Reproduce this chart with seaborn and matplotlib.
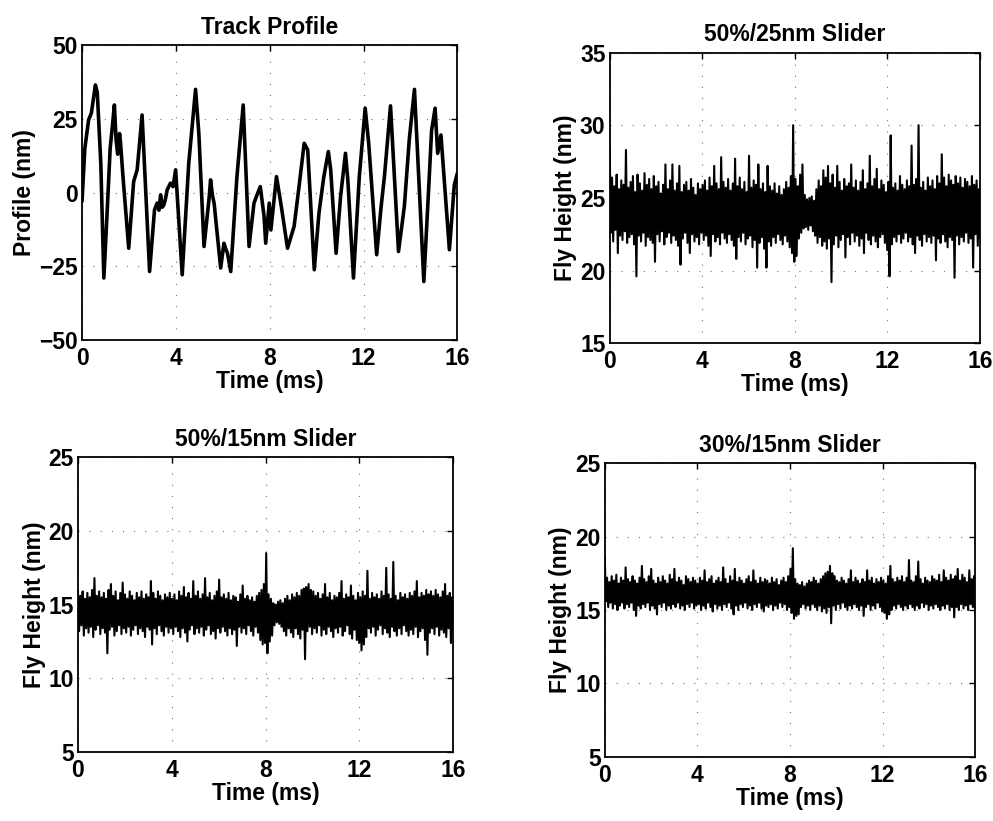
import numpy as np
import pandas as pd
import matplotlib
matplotlib.use("Agg")
import matplotlib.pyplot as plt
import seaborn as sns

# ---------------- data ----------------
track_t = [0.0, 0.12, 0.28, 0.4, 0.57, 0.65, 0.8, 0.93, 1.05, 1.2, 1.3, 1.38, 1.45, 1.52, 1.6, 1.64,
           1.75, 1.99, 2.2, 2.35, 2.56, 2.88, 3.09, 3.2, 3.28, 3.35, 3.42, 3.49, 3.56, 3.63, 3.77, 3.88,
           3.99, 4.27, 4.55, 4.84, 4.98, 5.2, 5.41, 5.48, 5.56, 5.63, 5.91, 6.05, 6.12, 6.2, 6.34, 6.6,
           6.87, 7.12, 7.33, 7.45, 7.6, 7.76, 7.83, 7.98, 8.05, 8.29, 8.5, 8.76, 9.04, 9.25, 9.47, 9.62,
           9.9, 10.1, 10.3, 10.5, 10.6, 10.83, 11.02, 11.23, 11.33, 11.57, 11.82, 12.07, 12.22, 12.56,
           12.75, 12.89, 13.15, 13.49, 13.74, 13.95, 14.17, 14.57, 14.81, 14.9, 15.05, 15.16, 15.3,
           15.66, 15.87, 16.0]
track_nm = [-3, 15, 24.6, 27, 36.5, 34, 10, -29, -10, 15, 23, 29.7, 18, 13, 20, 17,
            5, -18.9, 3.7, 7.7, 26.3, -26.8, -5.9, -3.6, -6, -0.8, -5, -4.2, -2, 0.9, 3.2, 2,
            7.7, -27.9, 10, 35, 20, -18.3, -2.5, 4.3, -1, -3.6, -25.6, -17.2, -19, -20.6, -26.8, 5,
            29.7, -18.3, -3.6, -1, 2, -8.1, -17.2, -3.6, -12.7, 5.4, -5, -18.9, -11.5, 2, 16.7, 14.5,
            -26.2, -7, 5, 13.9, 7.7, -20.6, -1.4, 13.3, 4.3, -29, 5.4, 28.6, 16.7, -21.1,
            -4.7, 5.4, 29.4, -20, -4.7, 18, 35, -30.2, 6.6, 21, 28.6, 13.3, 19.5,
            -19.4, 2.6, 6.6]

# 50%/25nm slider: local maxima and minima of the fly-height trace
fh25_hi = [28.5, 26.4, 25.8, 26.6, 25.6, 26.2, 25.9, 28.3, 25.7, 26.1,
           26.5, 25.4, 26.6, 26.0, 25.5, 26.7, 25.9, 26.3, 25.6, 26.5,
           25.8, 26.1, 25.3, 25.9, 27.3, 25.6, 26.2, 27.3, 25.5, 26.0,
           27.2, 25.4, 25.9, 26.1, 25.5, 26.3, 25.7, 25.2, 26.0, 25.6,
           25.9, 26.2, 25.5, 26.4, 25.8, 27.2, 26.0, 25.6, 27.8, 26.1,
           25.7, 26.3, 25.5, 26.0, 27.7, 25.8, 26.4, 25.6, 26.1, 25.4,
           27.9, 25.7, 26.2, 25.9, 27.3, 25.6, 26.0, 25.4, 27.2, 25.8,
           25.5, 26.0, 25.3, 25.8, 25.2, 25.6, 26.1, 25.7, 26.5, 30.0,
           26.3, 25.8, 26.6, 27.3, 25.2, 24.9, 25.0, 25.1, 24.8, 25.6,
           26.2, 25.8, 26.9, 26.4, 27.2, 26.0, 26.6, 25.7, 27.2, 26.1,
           25.5, 26.3, 25.8, 26.0, 27.3, 25.7, 26.2, 25.5, 26.1, 26.9,
           25.6, 26.0, 27.9, 25.8, 26.3, 27.0, 25.6, 26.2, 25.9, 25.4,
           26.1, 29.3, 25.7, 26.0, 25.5, 26.5, 25.9, 25.6, 26.2, 25.8,
           28.6, 25.9, 26.3, 30.0, 25.7, 26.1, 25.5, 26.4, 25.8, 26.2,
           25.6, 26.5, 26.0, 28.0, 26.4, 25.8, 26.6, 26.2, 25.9, 26.5,
           26.0, 26.4, 25.7, 26.3, 26.1, 25.8, 26.5, 25.9, 26.2, 25.6]
fh25_lo = [22.6, 22.0, 22.8, 21.2, 22.4, 22.1, 22.7, 21.9, 22.3, 22.5,
           21.8, 19.6, 22.4, 22.0, 22.6, 21.7, 22.3, 22.1, 21.9, 20.6,
           22.5, 22.0, 22.7, 21.8, 22.3, 22.6, 21.9, 22.4, 22.1, 21.7,
           20.4, 22.2, 22.6, 21.9, 21.2, 22.5, 22.0, 22.3, 21.8, 22.6,
           22.1, 22.4, 21.7, 21.0, 22.5, 22.0, 22.3, 21.8, 22.6, 22.2,
           21.9, 22.5, 22.1, 21.7, 20.8, 22.3, 22.0, 22.6, 21.8, 22.2,
           22.4, 21.6, 22.1, 20.2, 21.9, 22.3, 21.5, 20.2, 22.0, 21.7,
           22.3, 21.9, 22.5, 22.1, 21.8, 22.4, 22.0, 21.6, 21.2, 20.6,
           21.0, 22.2, 22.6, 22.9, 23.0, 22.8, 23.1, 22.7, 22.4, 21.9,
           22.3, 21.7, 22.0, 21.5, 22.2, 19.2, 21.8, 22.4, 21.6, 22.1,
           22.5, 20.9, 22.3, 21.8, 22.6, 22.0, 22.4, 21.7, 22.2, 21.2,
           22.6, 22.1, 21.8, 22.4, 22.0, 21.6, 22.3, 22.5, 21.9, 21.4,
           19.6, 21.8, 22.3, 22.0, 22.5, 21.9, 22.2, 22.6, 22.0, 22.3,
           21.8, 21.2, 22.4, 22.1, 21.7, 22.5, 22.0, 22.3, 21.9, 22.4,
           20.7, 22.2, 21.9, 22.5, 22.0, 21.6, 22.3, 22.1, 19.5, 22.4,
           21.8, 22.3, 22.0, 22.6, 21.9, 22.2, 20.2, 22.5, 21.7, 22.3]

# 50%/15nm slider
fh15a_hi = [16.0, 15.6, 15.9, 15.4, 15.8, 15.5, 16.0, 16.8, 15.6, 15.9,
            15.5, 15.8, 15.4, 16.0, 16.4, 15.6, 15.9, 15.3, 15.8, 16.5,
            15.7, 15.4, 15.9, 15.6, 15.3, 15.8, 15.5, 15.9, 15.4, 15.7,
            15.5, 16.6, 15.8, 15.4, 15.9, 15.6, 15.3, 15.7, 15.5, 15.8,
            15.4, 15.7, 15.3, 15.9, 15.6, 16.2, 15.5, 15.8, 15.4, 16.6,
            15.6, 15.9, 15.4, 15.7, 16.8, 15.5, 15.8, 15.3, 15.6, 15.9,
            16.7, 15.5, 15.7, 15.4, 15.8, 15.3, 15.6, 15.5, 15.2, 15.7,
            16.3, 15.4, 15.6, 15.3, 15.5, 15.2, 15.6, 15.8, 16.0, 16.4,
            18.5, 15.7, 15.4, 15.1, 15.0, 15.2, 15.3, 15.1, 15.4, 15.6,
            15.3, 15.7, 15.5, 15.8, 15.6, 16.0, 16.1, 16.2, 16.4, 16.0,
            15.9, 15.6, 15.8, 15.4, 15.7, 16.4, 15.5, 15.8, 15.3, 15.6,
            15.5, 15.8, 16.6, 15.4, 15.7, 15.5, 16.3, 15.6, 15.3, 15.8,
            15.5, 15.9, 15.6, 17.3, 15.4, 15.8, 15.5, 15.7, 15.4, 15.9,
            15.6, 17.5, 15.7, 15.4, 17.9, 15.6, 15.3, 15.8, 15.5, 15.7,
            15.4, 15.8, 15.6, 15.9, 16.6, 15.5, 15.8, 15.6, 16.0, 15.7,
            15.9, 15.6, 16.0, 15.7, 15.5, 15.9, 16.4, 15.6, 15.8, 15.5]
fh15a_lo = [13.2, 13.6, 12.9, 13.4, 13.1, 13.5, 12.8, 13.3, 13.6, 13.0,
            13.4, 13.1, 11.7, 13.3, 13.5, 12.9, 13.2, 13.6, 13.0, 13.4,
            13.1, 13.5, 12.9, 13.3, 13.6, 13.0, 13.4, 13.2, 12.8, 13.5,
            13.3, 12.3, 13.4, 13.0, 13.6, 13.2, 12.9, 13.5, 13.1, 13.4,
            13.0, 13.5, 13.2, 12.8, 13.4, 13.1, 12.5, 13.3, 13.6, 13.0,
            13.4, 13.1, 13.5, 12.9, 13.3, 13.6, 13.0, 13.2, 12.7, 13.4,
            13.1, 13.5, 13.2, 12.9, 13.4, 13.0, 13.3, 12.2, 13.5, 13.1,
            13.4, 13.0, 13.6, 13.2, 12.9, 13.5, 13.1, 12.6, 12.3, 12.4,
            11.7, 12.5, 12.9, 13.6, 13.8, 13.7, 13.5, 13.2, 12.9, 13.4,
            13.1, 12.8, 13.4, 13.0, 12.7, 13.3, 11.3, 13.2, 13.5, 13.0,
            13.4, 13.1, 13.6, 12.9, 13.3, 13.0, 13.5, 13.2, 12.8, 13.4,
            13.1, 13.5, 12.9, 13.2, 13.6, 13.0, 12.7, 13.3, 12.6, 12.4,
            11.9, 12.3, 12.8, 13.4, 13.1, 13.5, 12.9, 13.3, 13.6, 13.0,
            13.4, 13.1, 12.8, 13.5, 13.2, 12.9, 13.4, 13.0, 13.6, 13.2,
            12.9, 13.3, 13.0, 13.5, 12.8, 13.2, 13.4, 12.6, 11.6, 13.1,
            13.4, 13.0, 13.5, 12.9, 13.3, 13.1, 12.8, 13.4, 12.4, 13.2]

# 30%/15nm slider
fh15b_hi = [18.7, 17.2, 16.9, 17.3, 17.0, 17.4, 16.8, 17.2, 17.0, 17.9,
            17.1, 16.9, 17.3, 17.0, 16.8, 17.2, 18.0, 17.1, 16.9, 17.3,
            17.8, 17.0, 16.8, 17.2, 16.9, 17.3, 17.0, 16.8, 17.4, 17.1,
            17.8, 16.9, 17.2, 17.0, 16.7, 17.3, 17.1, 16.9, 17.2, 17.0,
            16.8, 17.2, 17.0, 17.7, 16.9, 17.1, 17.3, 16.8, 17.0, 17.2,
            16.9, 17.9, 17.1, 16.8, 17.3, 17.0, 17.8, 16.9, 17.2, 17.0,
            16.8, 17.1, 17.3, 16.9, 17.7, 17.0, 16.8, 17.2, 16.9, 17.1,
            17.0, 16.8, 17.2, 16.9, 17.1, 16.7, 17.0, 17.2, 16.9, 17.3,
            17.8, 19.2, 17.1, 16.8, 16.7, 16.9, 16.6, 16.8, 17.0, 16.9,
            17.2, 17.0, 16.8, 17.1, 17.3, 17.5, 17.6, 18.0, 17.5, 17.3,
            17.0, 16.9, 17.2, 17.0, 16.8, 17.1, 17.7, 16.9, 17.2, 17.0,
            16.8, 17.1, 16.9, 17.7, 17.0, 17.2, 16.8, 17.1, 16.9, 17.2,
            17.0, 16.8, 17.3, 18.0, 17.1, 16.9, 17.2, 17.0, 17.3, 16.9,
            17.2, 18.4, 17.0, 16.9, 17.3, 18.3, 17.1, 16.8, 17.2, 17.0,
            16.9, 17.3, 17.1, 17.0, 17.4, 16.9, 17.7, 17.2, 17.0, 17.4,
            17.1, 17.3, 17.8, 17.0, 17.4, 17.2, 16.9, 17.7, 17.1, 17.3]
fh15b_lo = [15.6, 15.2, 15.5, 15.1, 15.4, 15.0, 15.3, 15.5, 15.1, 15.4,
            15.2, 15.5, 15.0, 14.6, 15.3, 15.1, 15.4, 15.2, 15.5, 15.0,
            15.3, 15.1, 14.7, 15.4, 15.2, 15.5, 15.0, 15.3, 15.1, 15.4,
            15.2, 15.5, 15.1, 15.3, 15.0, 15.4, 15.2, 15.5, 15.1, 15.3,
            15.4, 15.0, 15.3, 15.1, 15.5, 15.2, 14.9, 15.4, 15.1, 15.3,
            15.0, 15.4, 15.2, 15.5, 15.1, 14.7, 15.3, 15.0, 15.4, 15.2,
            15.5, 15.1, 15.3, 15.0, 15.4, 15.2, 15.5, 15.1, 14.9, 15.3,
            15.2, 15.4, 15.0, 15.3, 15.1, 15.5, 15.2, 15.4, 15.0, 15.2,
            14.8, 14.4, 14.6, 14.7, 15.2, 15.4, 15.1, 15.3, 15.0, 15.4,
            15.2, 15.0, 15.3, 14.9, 15.1, 14.8, 15.2, 14.1, 15.3, 15.0,
            15.4, 15.1, 15.5, 15.2, 15.0, 15.3, 15.1, 15.4, 15.2, 15.0,
            15.3, 14.6, 15.2, 15.4, 15.0, 15.3, 15.1, 15.5, 15.2, 14.9,
            14.8, 14.4, 14.7, 15.0, 15.3, 15.1, 15.4, 15.2, 15.0, 15.3,
            15.1, 15.4, 15.2, 15.0, 15.3, 15.1, 15.5, 15.2, 15.4, 15.0,
            15.3, 15.1, 15.4, 15.2, 15.0, 15.3, 15.1, 15.4, 15.0, 15.2,
            14.5, 15.2, 15.0, 15.4, 15.1, 15.3, 15.0, 15.4, 15.2, 14.8]

time_ticks = [0, 4, 8, 12, 16]
profile_ticks = [-50, -25, 0, 25, 50]
fh25_ticks = [15, 20, 25, 30, 35]
fh15_ticks = [5, 10, 15, 20, 25]

titles = ["Track Profile", "50%/25nm Slider", "50%/15nm Slider", "30%/15nm Slider"]


def trace(hi, lo):
    """Interleave the read maxima/minima into one time trace."""
    vals = np.empty(len(hi) + len(lo))
    vals[0::2] = hi
    vals[1::2] = lo
    t = np.linspace(0, 16, len(vals))
    return pd.DataFrame({"t": t, "v": vals})


# ---------------- styling ----------------
sns.set_theme(style="white")
plt.rcParams["font.family"] = ["Liberation Sans", "DejaVu Sans"]
FS = 16.5
plt.rcParams.update({
    "text.color": "black",
    "axes.labelcolor": "black",
    "axes.edgecolor": "black",
    "axes.linewidth": 1.3,
    "xtick.direction": "in",
    "ytick.direction": "in",
    "xtick.top": True,
    "ytick.right": True,
    "xtick.major.size": 4,
    "ytick.major.size": 4,
    "xtick.major.width": 1.0,
    "ytick.major.width": 1.0,
    "xtick.color": "black",
    "ytick.color": "black",
    "xtick.labelcolor": "black",
    "ytick.labelcolor": "black",
})

fig = plt.figure(figsize=(9.93, 8.21), dpi=100)
positions = [
    [0.0826, 0.586, 0.378, 0.359],
    [0.614, 0.582, 0.373, 0.354],
    [0.0785, 0.084, 0.378, 0.359],
    [0.609, 0.078, 0.373, 0.358],
]
axes = [fig.add_axes(p) for p in positions]

sns.lineplot(data=pd.DataFrame({"t": track_t, "v": track_nm}), x="t", y="v", ax=axes[0],
             color="black", linewidth=2.6, estimator=None, sort=False)
sns.lineplot(data=trace(fh25_hi, fh25_lo), x="t", y="v", ax=axes[1],
             color="black", linewidth=1.5, estimator=None, sort=False)
sns.lineplot(data=trace(fh15a_hi, fh15a_lo), x="t", y="v", ax=axes[2],
             color="black", linewidth=1.5, estimator=None, sort=False)
sns.lineplot(data=trace(fh15b_hi, fh15b_lo), x="t", y="v", ax=axes[3],
             color="black", linewidth=1.5, estimator=None, sort=False)

ylims = [(-50, 50), (15, 35), (5, 25), (5, 25)]
yticks = [profile_ticks, fh25_ticks, fh15_ticks, fh15_ticks]
ylabels = ["Profile (nm)", "Fly Height (nm)", "Fly Height (nm)", "Fly Height (nm)"]

for ax, yl, yt, ylab, title in zip(axes, ylims, yticks, ylabels, titles):
    ax.set_xlim(0, 16)
    ax.set_ylim(*yl)
    ax.set_xticks(time_ticks)
    ax.set_yticks(yt)
    ax.set_xticklabels([str(v) for v in time_ticks], fontsize=FS, fontweight="bold")
    ax.set_yticklabels([("\u2212" + str(-v)) if v < 0 else str(v) for v in yt],
                       fontsize=FS, fontweight="bold")
    ax.tick_params(axis="x", pad=5)
    ax.tick_params(axis="y", pad=3)
    ax.set_xlabel("Time (ms)", fontsize=FS, fontweight="bold", labelpad=0)
    ax.set_ylabel(ylab, fontsize=FS, fontweight="bold", labelpad=2)
    ax.set_title(title, fontsize=FS, fontweight="bold", pad=8)
    ax.grid(True, linestyle=(0, (1, 9)), linewidth=0.8, color="0.45")
    for s in ax.spines.values():
        s.set_visible(True)
        s.set_color("black")

fig.savefig("out.png", dpi=100, facecolor="white")
